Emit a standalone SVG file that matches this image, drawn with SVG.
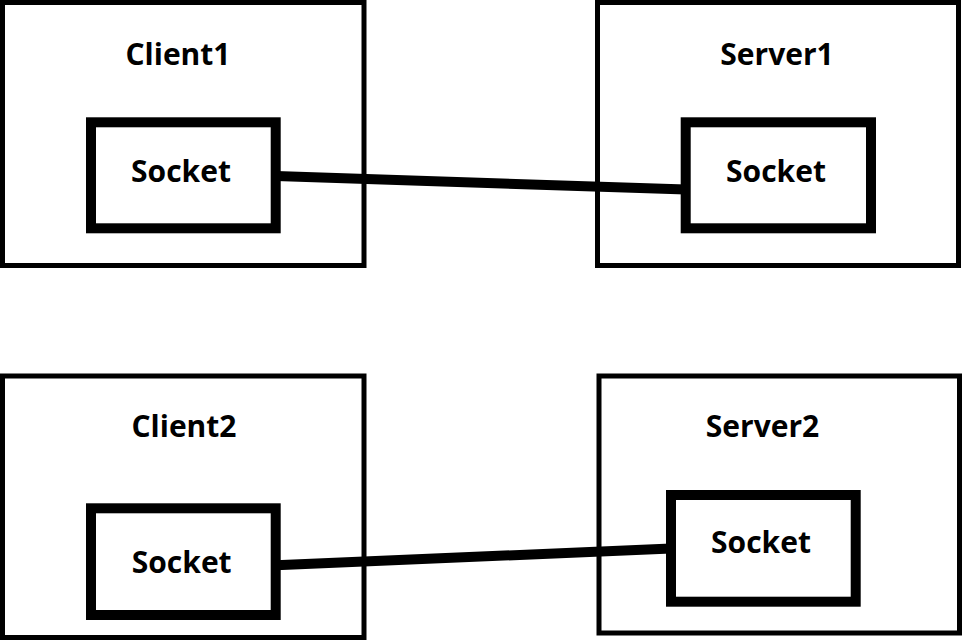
<svg xmlns="http://www.w3.org/2000/svg" width="962" height="641" viewBox="0 0 962 641">
<style>
.outer{fill:#fff;stroke:#000;stroke-width:5}
.sock{fill:#fff;stroke:#000;stroke-width:10}
.lbl{font-family:"Open Sans","Liberation Sans",sans-serif;font-weight:bold;font-size:30px;text-anchor:middle;fill:#000}
.conn{stroke:#000;stroke-width:10;fill:none}
</style>
<rect x="0" y="0" width="962" height="641" fill="#fff"/>
<g id="client1">
<rect class="outer" x="2.5" y="2.5" width="361.5" height="263"/>
<text class="lbl" x="178" y="65">Client1</text>
</g>
<g id="server1">
<rect class="outer" x="597.5" y="2.5" width="361" height="263"/>
<text class="lbl" x="777" y="65">Server1</text>
</g>
<g id="client2">
<rect class="outer" x="2.5" y="376" width="361.5" height="261.5"/>
<text class="lbl" x="184" y="437">Client2</text>
</g>
<g id="server2">
<rect class="outer" x="599" y="376" width="360.5" height="257"/>
<text class="lbl" x="762.5" y="437">Server2</text>
</g>
<g id="connectors">
<line class="conn" x1="276" y1="176" x2="686" y2="189.5"/>
<line class="conn" x1="276" y1="565.3" x2="671" y2="548.5"/>
</g>
<g id="client1-socket">
<rect class="sock" x="91" y="122.3" width="184.7" height="106"/>
<text class="lbl" x="181" y="182">Socket</text>
</g>
<g id="server1-socket">
<rect class="sock" x="685.7" y="122.3" width="185.3" height="106"/>
<text class="lbl" x="776" y="182">Socket</text>
</g>
<g id="client2-socket">
<rect class="sock" x="91" y="508.3" width="184.7" height="106.7"/>
<text class="lbl" x="181.7" y="573">Socket</text>
</g>
<g id="server2-socket">
<rect class="sock" x="671" y="495" width="184.7" height="106.7"/>
<text class="lbl" x="761" y="553">Socket</text>
</g>
</svg>
